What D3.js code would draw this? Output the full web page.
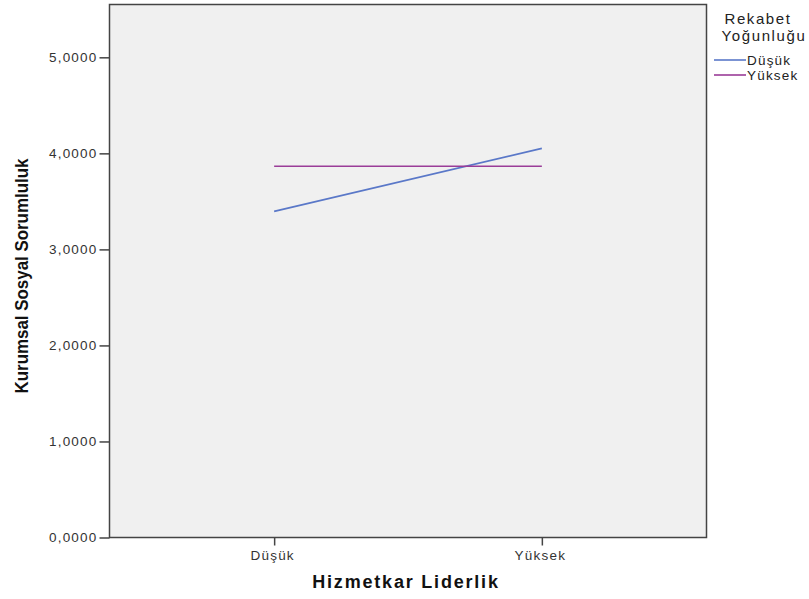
<!DOCTYPE html>
<html><head><meta charset="utf-8">
<script src="https://cdn.jsdelivr.net/npm/d3@7"></script>
<style>body{margin:0;background:#fff;}svg{display:block;}</style>
</head><body>
<script>
const categories = ["Düşük", "Yüksek"];
const seriesNames = ["Düşük", "Yüksek"];
const seriesDusuk = [3.396, 4.052];
const seriesYuksek = [3.865, 3.865];
const yTicks = [0, 1, 2, 3, 4, 5];
const colors = ["#5a78c8", "#9a3d98"];

const W = 809, H = 599;
const m = {left: 109.5, top: 4.5, right: 706.5, bottom: 537.5};
const svg = d3.select("body").append("svg").attr("width", W).attr("height", H);
const FF = "Liberation Sans, Arial, sans-serif";

const x = d3.scalePoint().domain(categories).range([m.left, m.right]).padding(0.615);
const y = d3.scaleLinear().domain([0, 5.55]).range([m.bottom, m.top]);

svg.append("rect").attr("x", m.left).attr("y", m.top).attr("width", m.right - m.left).attr("height", m.bottom - m.top)
  .attr("fill", "#f0f0f0").attr("stroke", "#444").attr("stroke-width", 1.5);

const yAxis = svg.append("g").attr("transform", `translate(${m.left},0)`)
  .call(d3.axisLeft(y).tickValues(yTicks).tickSize(10).tickPadding(2).tickFormat(d => d3.format(".4f")(d).replace(".", ",")));
const xAxis = svg.append("g").attr("transform", `translate(0,${m.bottom})`)
  .call(d3.axisBottom(x).tickSize(8).tickPadding(5));
[yAxis, xAxis].forEach(g => {
  g.select(".domain").remove();
  g.selectAll("line").attr("stroke", "#444").attr("stroke-width", 1.5);
  g.selectAll("text").attr("fill", "#333").style("font-family", FF).style("font-size", "13.5px").style("letter-spacing", "1.2px");
});
xAxis.selectAll("text").attr("dx", "-2px");

const series = [seriesDusuk, seriesYuksek];
const line = d3.line().x((d, i) => x(categories[i])).y(d => y(d));
series.forEach((s, k) => {
  svg.append("path").datum(s).attr("d", line).attr("fill", "none").attr("stroke", colors[k]).attr("stroke-width", 1.6);
});

svg.append("text").attr("transform", "translate(28,276) rotate(-90) scale(0.94,1)").attr("text-anchor", "middle")
  .style("font-family", FF).style("font-weight", "bold").style("font-size", "18px")
  .attr("fill", "#111").text("Kurumsal Sosyal Sorumluluk");

svg.append("text").attr("x", 406).attr("y", 588).attr("text-anchor", "middle")
  .style("font-family", FF).style("font-weight", "bold").style("font-size", "18px")
  .style("letter-spacing", "1.8px").attr("fill", "#111").text("Hizmetkar Liderlik");

const lg = svg.append("g");
lg.append("text").attr("x", 758).attr("y", 24).attr("text-anchor", "middle")
  .style("font-family", FF).style("font-size", "15px").style("letter-spacing", "1.6px").attr("fill", "#222").text("Rekabet");
lg.append("text").attr("x", 764).attr("y", 41).attr("text-anchor", "middle")
  .style("font-family", FF).style("font-size", "15px").style("letter-spacing", "1.6px").attr("fill", "#222").text("Yoğunluğu");
seriesNames.forEach((n, k) => {
  const yy = 60 + k * 15;
  lg.append("line").attr("x1", 714).attr("x2", 746).attr("y1", yy).attr("y2", yy).attr("stroke", colors[k]).attr("stroke-width", 1.6);
  lg.append("text").attr("x", 747).attr("y", yy + 4.5).style("font-family", FF)
    .style("font-size", "13.5px").style("letter-spacing", "1.2px").attr("fill", "#222").text(n);
});
</script>
</body></html>
